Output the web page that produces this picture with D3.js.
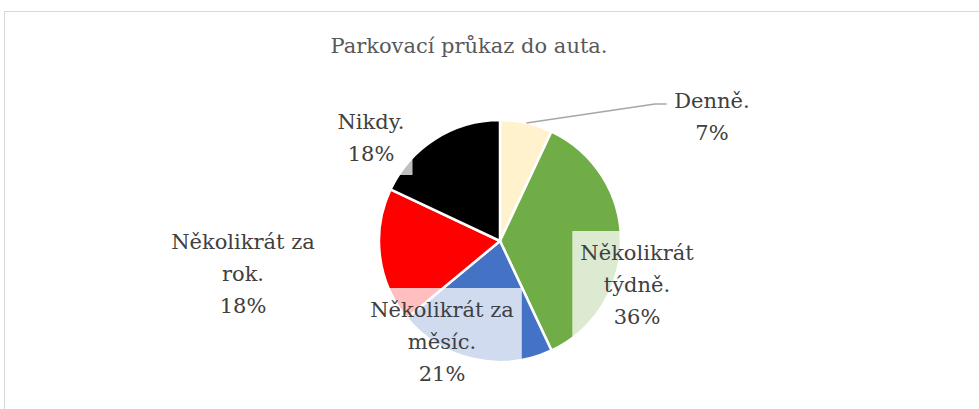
<!DOCTYPE html>
<html>
<head>
<meta charset="utf-8">
<script src="https://cdn.jsdelivr.net/npm/d3@7"></script>
<style>
  body { margin: 0; background: #fff; }
  text { font-family: "Palatino Linotype", "Book Antiqua", Palatino, "DejaVu Serif", serif; }
</style>
</head>
<body>
<div id="chart"></div>
<script>
// Data
var categories = ["Denně.", "Několikrát týdně.", "Několikrát za měsíc.", "Několikrát za rok.", "Nikdy."];
var values = [7, 36, 21, 18, 18];
var colors = ["#FFF2CC", "#70AD47", "#4472C4", "#FF0000", "#000000"];
var labelLines = [
  ["Denně.", "7%"],
  ["Několikrát", "týdně.", "36%"],
  ["Několikrát za", "měsíc.", "21%"],
  ["Několikrát za", "rok.", "18%"],
  ["Nikdy.", "18%"]
];
var title = "Parkovací průkaz do auta.";

// Layout
var width = 979, height = 409;
var cx = 500, cy = 241, radius = 121;
var lineHeight = 32;
// label anchor: centre x, first baseline y
var labelPos = [[712, 108], [637, 260], [442, 317], [243, 249], [371, 129]];

var svg = d3.select('#chart')
            .append('svg')
            .attr('width', width)
            .attr('height', height);

// chart border
svg.append('rect')
   .attr('x', 4.5).attr('y', 11.5)
   .attr('width', 1000).attr('height', 500)
   .attr('fill', '#fff')
   .attr('stroke', '#d9d9d9');

// title
svg.append('text')
   .attr('x', 469).attr('y', 53)
   .attr('text-anchor', 'middle')
   .attr('font-size', 21)
   .attr('fill', '#595959')
   .text(title);

// Pie
var pie = d3.pie().sort(null).value(function(d) { return d; });
var arc = d3.arc().innerRadius(0).outerRadius(radius);
var arcs = pie(values);

var g = svg.append('g').attr('transform', 'translate(' + cx + ',' + cy + ')');
g.selectAll('path')
 .data(arcs)
 .enter()
 .append('path')
 .attr('d', arc)
 .attr('fill', function(d, i) { return colors[i]; })
 .attr('stroke', '#fff')
 .attr('stroke-width', 2.5);

// Leader line for the outside label
var a0 = arcs[0];
var mid = (a0.startAngle + a0.endAngle) / 2;
var p0 = [cx + Math.sin(mid) * radius, cy - Math.cos(mid) * radius];
svg.append('polyline')
   .attr('points', [p0, [655, 104], [668, 104]].map(function(p) { return p.join(','); }).join(' '))
   .attr('fill', 'none')
   .attr('stroke', '#a6a6a6')
   .attr('stroke-width', 1.5);

// Labels with semi-transparent boxes
var labels = svg.selectAll('g.label')
  .data(labelLines)
  .enter()
  .append('g')
  .attr('class', 'label');

labels.each(function(lines, i) {
  var lg = d3.select(this);
  var box = lg.append('rect');
  var t = lg.append('text')
            .attr('text-anchor', 'middle')
            .attr('font-size', 21)
            .attr('fill', '#404040');
  lines.forEach(function(s, j) {
    t.append('tspan')
     .attr('x', labelPos[i][0])
     .attr('y', labelPos[i][1] + j * lineHeight)
     .text(s);
  });
  var maxW = d3.max(t.selectAll('tspan').nodes(), function(n) { return n.getComputedTextLength(); });
  box.attr('x', labelPos[i][0] - maxW / 2 - 8)
     .attr('y', labelPos[i][1] - 29)
     .attr('width', maxW + 16)
     .attr('height', (lines.length - 1) * lineHeight + 43)
     .attr('fill', '#fff')
     .attr('fill-opacity', 0.75);
});
</script>
</body>
</html>
